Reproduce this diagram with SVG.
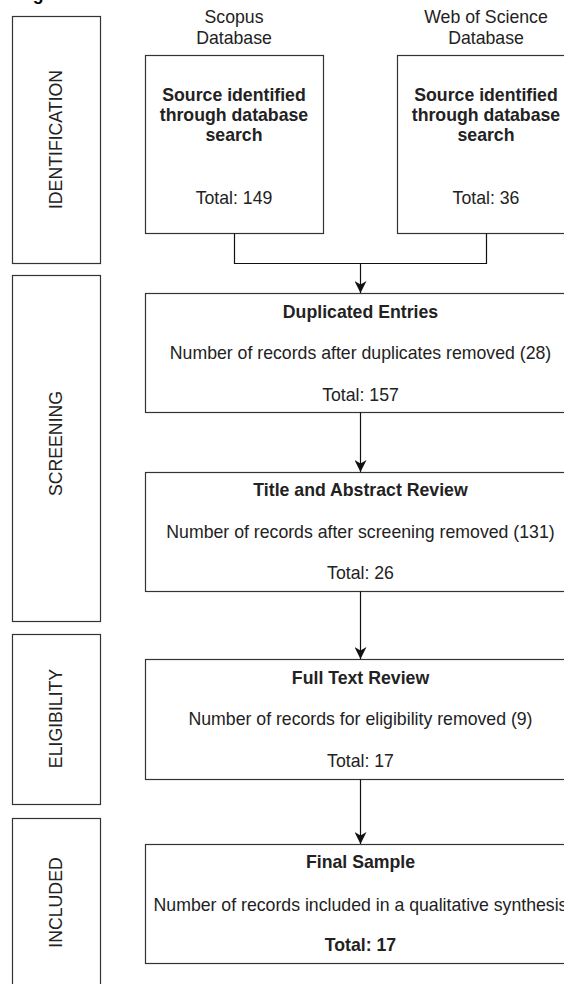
<svg xmlns="http://www.w3.org/2000/svg" width="564" height="984" viewBox="0 0 564 984">
<style>
.box{fill:#fff;stroke:#333;stroke-width:1.2}
.t{font-family:"Liberation Sans",Arial,sans-serif;font-size:17.7px;fill:#222;text-anchor:middle}
.b{font-weight:bold}
.edge{fill:none;stroke:#111;stroke-width:1.2}
</style>
<defs>
<marker id="arr" markerUnits="userSpaceOnUse" markerWidth="12" markerHeight="12" refX="10" refY="5" orient="auto" viewBox="0 0 10 10">
<path d="M0,0 L10,5 L0,10 L3,5 z" fill="#111"/>
</marker>
</defs>
<rect width="564" height="984" fill="#fff"/>
<text class="t b" x="17" y="0" style="text-anchor:start;fill:#000">Figure</text>

<g id="identification">
<rect class="box" x="12.5" y="16.5" width="88" height="247"/>
<text class="t" transform="translate(62,139.5) rotate(-90)">IDENTIFICATION</text>
</g>
<g id="screening">
<rect class="box" x="12.5" y="275.5" width="88" height="346"/>
<text class="t" transform="translate(62,443.5) rotate(-90)">SCREENING</text>
</g>
<g id="eligibility">
<rect class="box" x="12.5" y="634.5" width="88" height="170"/>
<text class="t" transform="translate(62,718.5) rotate(-90)">ELIGIBILITY</text>
</g>
<g id="included">
<rect class="box" x="12.5" y="818.5" width="88" height="200"/>
<text class="t" transform="translate(62,902.5) rotate(-90)">INCLUDED</text>
</g>

<g id="scopus">
<text class="t" x="234" y="22.5">Scopus</text>
<text class="t" x="234" y="43.5">Database</text>
<rect class="box" x="145.5" y="55.5" width="178" height="178"/>
<text class="t b" x="234" y="101">Source identified</text>
<text class="t b" x="234" y="121">through database</text>
<text class="t b" x="234" y="141">search</text>
<text class="t" x="234" y="204">Total: 149</text>
</g>

<g id="wos">
<text class="t" x="486" y="22.5">Web of Science</text>
<text class="t" x="486" y="43.5">Database</text>
<rect class="box" x="397.5" y="55.5" width="178" height="178"/>
<text class="t b" x="486" y="101">Source identified</text>
<text class="t b" x="486" y="121">through database</text>
<text class="t b" x="486" y="141">search</text>
<text class="t" x="486" y="204">Total: 36</text>
</g>

<g id="duplicated">
<rect class="box" x="145.5" y="293.5" width="430" height="119"/>
<text class="t b" x="360.5" y="318">Duplicated Entries</text>
<text class="t" x="360.5" y="359">Number of records after duplicates removed (28)</text>
<text class="t" x="360.5" y="401">Total: 157</text>
</g>

<g id="title-abstract">
<rect class="box" x="145.5" y="472.5" width="430" height="119"/>
<text class="t b" x="360.5" y="496">Title and Abstract Review</text>
<text class="t" x="360.5" y="538">Number of records after screening removed (131)</text>
<text class="t" x="360.5" y="579">Total: 26</text>
</g>

<g id="full-text">
<rect class="box" x="145.5" y="659.5" width="430" height="120"/>
<text class="t b" x="360.5" y="684">Full Text Review</text>
<text class="t" x="360.5" y="725">Number of records for eligibility removed (9)</text>
<text class="t" x="360.5" y="767">Total: 17</text>
</g>

<g id="final-sample">
<rect class="box" x="145.5" y="844.5" width="430" height="119"/>
<text class="t b" x="360.5" y="868">Final Sample</text>
<text class="t" x="360.5" y="911">Number of records included in a qualitative synthesis</text>
<text class="t b" x="360.5" y="951">Total: 17</text>
</g>

<g id="connectors">
<path class="edge" d="M234.5,233.5 V263.5 H360.5"/>
<path class="edge" d="M486.5,233.5 V263.5 H360.5 V293" marker-end="url(#arr)"/>
<path class="edge" d="M360.5,412.5 V472" marker-end="url(#arr)"/>
<path class="edge" d="M360.5,591.5 V659" marker-end="url(#arr)"/>
<path class="edge" d="M360.5,779.5 V844" marker-end="url(#arr)"/>
</g>
</svg>
